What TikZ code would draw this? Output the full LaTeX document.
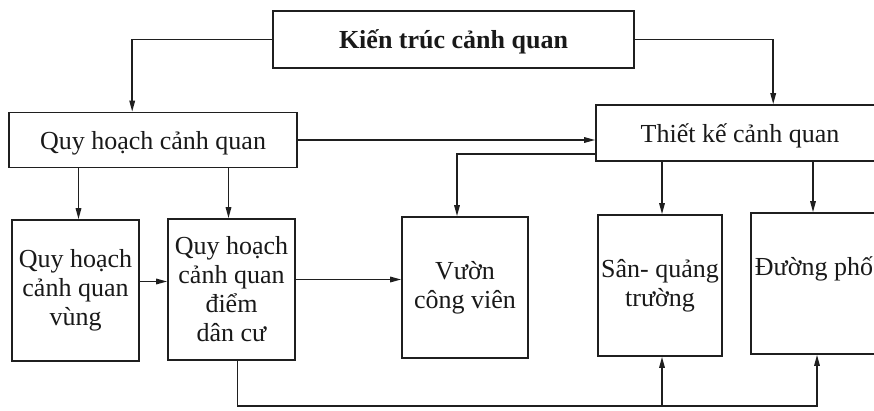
\documentclass[tikz,border=0pt]{standalone}
\usepackage{fontspec}
\setmainfont{Liberation Serif}
\usetikzlibrary{arrows.meta}

\tikzset{
  box/.style={draw=black!88, line width=1.6pt, rectangle, inner sep=0pt,
              align=center, text=black!90,
              font=\fontsize{26}{29}\selectfont},
  widebox/.style={box, minimum width=288pt, minimum height=55pt, text depth=0pt},
  tallbox/.style={box, minimum width=126pt, minimum height=141pt},
  link/.style={draw=black!88, line width=1.5pt,
               -{Triangle[length=11pt,width=5.5pt]}}
}

\begin{document}
\begin{tikzpicture}[x=1pt,y=-1pt]
  \useasboundingbox (0,0) rectangle (874,410);
  \clip (0,0) rectangle (874,410);
  \fill[white] (0,0) rectangle (874,410);

  % top level
  \node[box, minimum width=361pt, minimum height=57pt, text depth=0pt,
        font=\fontsize{26}{29}\selectfont\bfseries]
    (top) at (453.5,39.5) {Kiến trúc cảnh quan};

  % second level
  \node[widebox] (qh) at (153,140) {Quy hoạch cảnh quan};
  \node[widebox, minimum height=56pt] (tk) at (740,133) {Thiết kế cảnh quan};

  % third level
  \node[tallbox, minimum width=127pt] (vung) at (75.5,290.5) {Quy hoạch\\cảnh quan\\vùng};
  \node[tallbox, minimum width=127pt] (diem) at (231.5,289.5) {Quy hoạch\\cảnh quan\\điểm\\dân cư};
  \node[tallbox] (vuon) at (465,287.5) {Vườn\\công viên};
  \node[tallbox, minimum width=124pt] (san) at (660,285.5) {Sân- quảng\\trường};
  \node[tallbox] (duong) at (814,283.5) {Đường phố\\\phantom{y}};

  % arrow entry points on the boxes
  \coordinate (qhL) at ([xshift=124pt]qh.north west);
  \coordinate (tkT) at ([xshift=178pt]tk.north west);
  \coordinate (vungT) at ([xshift=3pt]vung.north);
  \coordinate (diemT) at ([xshift=-3pt]diem.north);
  \coordinate (vuonT) at ([xshift=-8pt]vuon.north);
  \coordinate (sanT) at ([xshift=2pt]san.north);
  \coordinate (duongT) at ([xshift=-1pt]duong.north);
  \coordinate (sanB) at ([xshift=2pt]san.south);
  \coordinate (duongB) at ([xshift=3pt]duong.south);
  \coordinate (tkV) at ([yshift=-21pt]tk.west);
  \coordinate (vungR) at ([yshift=9pt]vung.east);
  \coordinate (diemR) at ([yshift=10pt]diem.east);
  \coordinate (diemB) at ([xshift=6pt]diem.south);
  % bus line along the bottom
  \coordinate (bus) at (0,406);

  % connectors
  \draw[link] (top.west) -| (qhL);
  \draw[link] (top.east) -| (tkT);
  \draw[link] (qh.east) -- (qh.east -| tk.west);

  \draw[link] (qh.south -| vungT) -- (vungT);
  \draw[link] (qh.south -| diemT) -- (diemT);

  \draw[link] (tkV) -| (vuonT);
  \draw[link] (tk.south -| sanT) -- (sanT);
  \draw[link] (tk.south -| duongT) -- (duongT);

  \draw[link] (vungR) -- (vungR -| diem.west);
  \draw[link] (diemR) -- (diemR -| vuon.west);

  \draw[link] (diemB) |- (bus -| duongB) -- (duongB);
  \draw[link] (bus -| sanB) -- (sanB);
\end{tikzpicture}
\end{document}
